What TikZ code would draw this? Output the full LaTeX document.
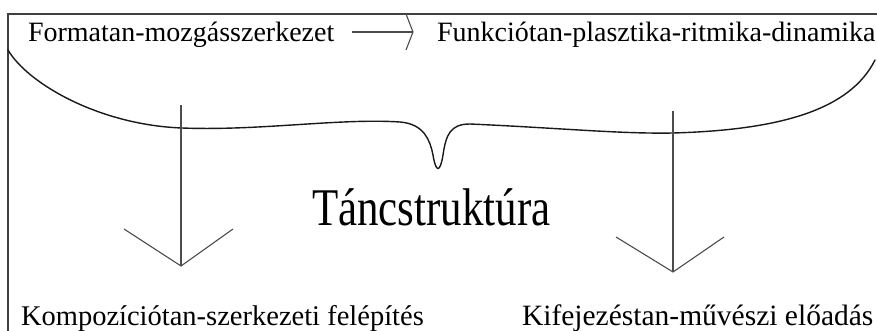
\documentclass[tikz,border=0pt]{standalone}
\usepackage{fontspec}
\setmainfont{Liberation Serif}
\begin{document}
\begin{tikzpicture}[x=1pt,y=-1pt,
  txt/.style={anchor=base west,inner sep=0pt,outer sep=0pt,text=black},
  frameline/.style={draw=black!75,line width=1.4pt},
  arrline/.style={draw=black!70,line width=1.1pt},
  braceline/.style={draw=black!90,line width=1.4pt,line cap=round,line join=round}]
\fill[white] (0,0) rectangle (877,331);
\useasboundingbox (0,0) rectangle (877,331);
% frame
\draw[frameline] (8,331) -- (8,14) -- (877,14);
% texts
\node[txt,font=\fontsize{28}{30}\selectfont] (ft) at (28,42) {Formatan-mozgásszerkezet};
\node[txt,font=\fontsize{28}{30}\selectfont] (fn) at (437,42) {Funkciótan-plasztika-ritmika-dinamika};
\node[txt] (tanc) at (312,225) {\scalebox{0.81}[1]{\fontsize{53}{55}\selectfont Táncstruktúra}};
\node[txt,font=\fontsize{28.5}{30}\selectfont] (komp) at (21,325) {Kompozíciótan-szerkezeti felépítés};
\node[txt,font=\fontsize{29.5}{30}\selectfont] (kif) at (522,325) {Kifejezéstan-művészi előadás};
% horizontal arrow
\coordinate (h1) at (352,32);
\coordinate (h2) at (413,32);
\draw[arrline] (h1) -- (h2);
\draw[arrline,line join=miter] (h2) ++(-7,-18) -- (h2) -- ++(-7,18);
% brace
\draw[braceline] (8,50) .. controls (28,84) and (100,125) .. (182,128)
  .. controls (260,131) and (340,118) .. (400,122)
  .. controls (424,124) and (430,140) .. (433,155)
  .. controls (436,173) and (440,173) .. (443,155)
  .. controls (446,135) and (450,124) .. (470,124)
  .. controls (560,128) and (620,134) .. (673,133)
  .. controls (780,130) and (850,110) .. (875,60);
% vertical arrows
\coordinate (l1) at (181,105);
\coordinate (l2) at (181,266);
\draw[arrline] (l1) -- (l2);
\draw[arrline,line join=miter] (l2) ++(-57,-37) -- (l2) -- ++(52,-37);
\coordinate (r1) at (673,111);
\coordinate (r2) at (673,272);
\draw[arrline] (r1) -- (r2);
\draw[arrline,line join=miter] (r2) ++(-57,-35) -- (r2) -- ++(51,-35);
\end{tikzpicture}
\end{document}
